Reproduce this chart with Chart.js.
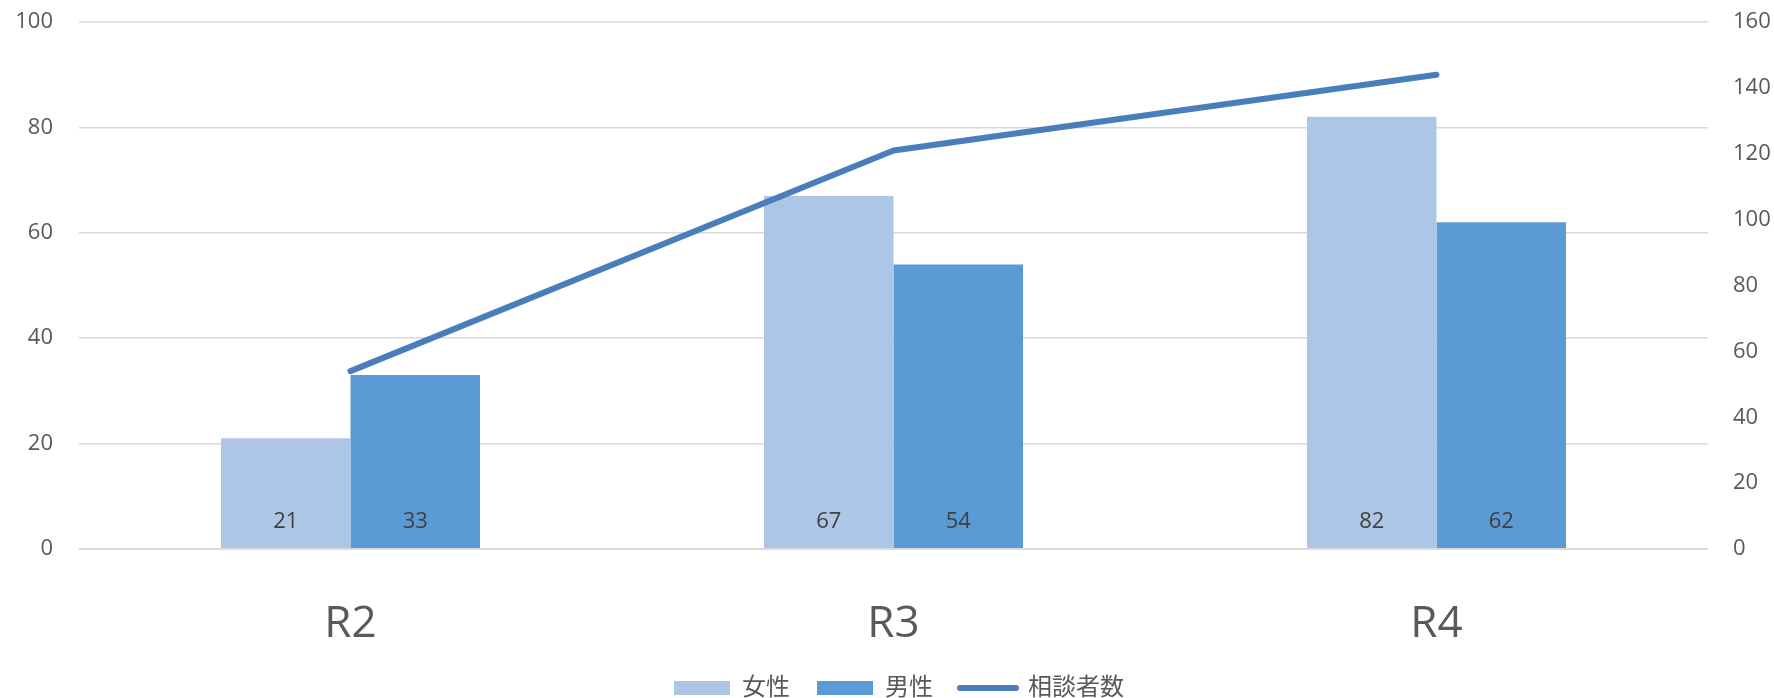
<!DOCTYPE html>
<html>
<head>
<meta charset="utf-8">
<script src="https://cdn.jsdelivr.net/npm/chart.js@4.4.0/dist/chart.umd.min.js"></script>
<style>
  html, body { margin: 0; padding: 0; background: #ffffff; }
  #wrap { width: 1774px; height: 698px; }
</style>
</head>
<body>
<div id="wrap"><canvas id="chart" width="1774" height="698"></canvas></div>
<script>
// Fiscal years
const categories = ['R2', 'R3', 'R4'];
// Consultations by gender
const femaleCounts = [21, 67, 82];
const maleCounts = [33, 54, 62];
// Total number of people consulting (right axis)
const consultationTotals = [54, 121, 144];
// Axis tick values
const leftAxisTicks = [0, 20, 40, 60, 80, 100];
const rightAxisTicks = [0, 20, 40, 60, 80, 100, 120, 140, 160];

const FONT = '"Open Sans", "Noto Sans CJK JP", sans-serif';
Chart.defaults.font.family = FONT;
Chart.defaults.color = '#595959';

// Writes each bar's value just above the bar's base
const barValueLabels = {
  id: 'barValueLabels',
  afterDatasetsDraw(chart) {
    const ctx = chart.ctx;
    ctx.save();
    ctx.font = '22px ' + FONT;
    ctx.fillStyle = '#404040';
    ctx.textAlign = 'center';
    ctx.textBaseline = 'middle';
    chart.data.datasets.forEach((ds, i) => {
      if (ds.type !== 'bar') return;
      chart.getDatasetMeta(i).data.forEach((bar, j) => {
        ctx.fillText(String(ds.data[j]), bar.x, bar.base - 26);
      });
    });
    ctx.restore();
  }
};

// Keeps the legend strip compact at the bottom edge, nudged a little right
const compactLegend = {
  id: 'compactLegend',
  beforeLayout(chart) {
    const legend = chart.legend;
    if (!legend || legend._compact) return;
    const fit = legend.fit;
    legend.fit = function () {
      fit.call(this);
      this.height = 49;
    };
    legend._compact = true;
  },
  afterLayout(chart) {
    if (chart.legend) chart.legend.left += 24;
  }
};

// Vertical axes: keep label overhang small so the plot can reach near the top
function trimVerticalPadding(axis) {
  axis.paddingTop = 10;
  axis.paddingBottom = 10;
}

new Chart(document.getElementById('chart'), {
  data: {
    labels: categories,
    datasets: [
      {
        type: 'bar',
        label: '女性',
        data: femaleCounts,
        backgroundColor: '#ADC6E5',
        yAxisID: 'y',
        order: 1
      },
      {
        type: 'bar',
        label: '男性',
        data: maleCounts,
        backgroundColor: '#5B9BD5',
        yAxisID: 'y',
        order: 1
      },
      {
        type: 'line',
        label: '相談者数',
        data: consultationTotals,
        borderColor: '#4A7EBB',
        backgroundColor: '#4A7EBB',
        borderWidth: 6,
        borderCapStyle: 'round',
        borderJoinStyle: 'round',
        pointRadius: 0,
        tension: 0,
        yAxisID: 'y1',
        order: 0
      }
    ]
  },
  options: {
    responsive: false,
    devicePixelRatio: 1,
    animation: false,
    layout: { padding: { top: 22, left: 0, right: 0, bottom: 0 } },
    datasets: {
      bar: { barPercentage: 1, categoryPercentage: 0.477 }
    },
    plugins: {
      tooltip: { enabled: false },
      legend: {
        position: 'bottom',
        labels: {
          usePointStyle: true,
          pointStyleWidth: 56,
          boxHeight: 14,
          padding: 27,
          color: '#595959',
          font: { size: 24, family: FONT },
          generateLabels(chart) {
            return chart.data.datasets.map((ds, i) => {
              const isLine = ds.type === 'line';
              return {
                text: ds.label,
                datasetIndex: i,
                fillStyle: isLine ? ds.borderColor : ds.backgroundColor,
                strokeStyle: isLine ? ds.borderColor : ds.backgroundColor,
                lineWidth: isLine ? 6 : 0,
                lineCap: 'round',
                pointStyle: isLine ? 'line' : 'rect',
                fontColor: '#595959',
                hidden: false
              };
            });
          }
        }
      }
    },
    scales: {
      x: {
        offset: true,
        grid: { display: false },
        border: { display: false },
        ticks: { padding: 41, color: '#595959', font: { size: 44, family: FONT } },
        afterFit(axis) { axis.height = 100; }
      },
      y: {
        position: 'left',
        min: 0,
        max: 100,
        afterBuildTicks(axis) { axis.ticks = leftAxisTicks.map(v => ({ value: v })); },
        grid: {
          color: '#D9D9D9',
          lineWidth: (c) => (c.tick && c.tick.value === 0 ? 2 : 1.5),
          drawTicks: false
        },
        border: { display: false },
        ticks: { padding: 26, color: '#595959', font: { size: 22, family: FONT } },
        afterFit(axis) { axis.width = 79; trimVerticalPadding(axis); }
      },
      y1: {
        position: 'right',
        min: 0,
        max: 160,
        afterBuildTicks(axis) { axis.ticks = rightAxisTicks.map(v => ({ value: v })); },
        grid: { display: false, drawTicks: false },
        border: { display: false },
        ticks: { padding: 25, color: '#595959', font: { size: 22, family: FONT } },
        afterFit(axis) { axis.width = 66; trimVerticalPadding(axis); }
      }
    }
  },
  plugins: [barValueLabels, compactLegend]
});
</script>
</body>
</html>
